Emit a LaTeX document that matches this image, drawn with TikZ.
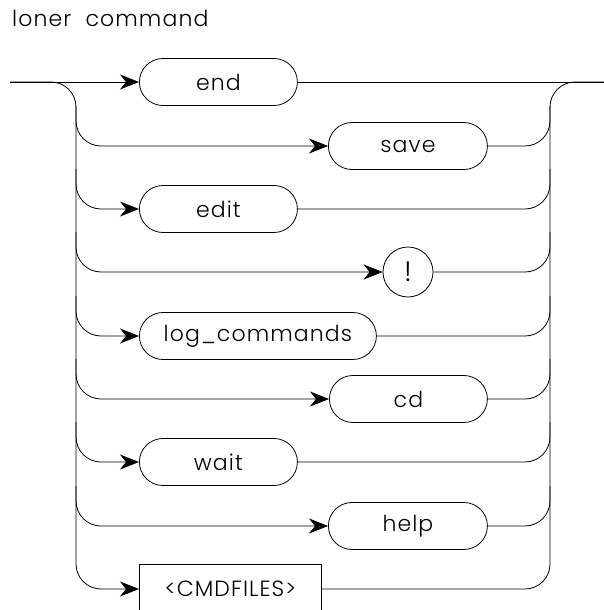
\documentclass[tikz,border=0pt]{standalone}
\usepackage{fontspec}
\setmainfont{Poppins Light}[LetterSpace=5]
\usetikzlibrary{arrows.meta}
\begin{document}
\begin{tikzpicture}[x=1pt,y=-1pt,
  every node/.style={font=\fontsize{22}{26}\selectfont},
  line/.style={line width=0.8pt, draw=black},
  tip/.tip={Stealth[length=19pt,width=15pt,inset=6pt]},
  arr/.style={line, -tip},
  pill/.style={line, rounded corners=23.5pt, minimum height=47pt, inner sep=0pt, anchor=west},
  bus/.style={line, rounded corners=25pt}]
\useasboundingbox (0,0) rectangle (604,610);
\clip (0,0) rectangle (604,610);
\node[anchor=base west, inner sep=0pt] (title) at (12,27) {loner\ \ command};
\coordinate (start) at (10,82);
\coordinate (finish) at (604,82);
\coordinate (L) at (76,0);
\coordinate (R) at (550,0);
\node[pill, minimum width=158pt] (end) at (139,82) {end};
\node[pill, minimum width=159pt] (save) at (328,146) {save};
\node[pill, minimum width=158pt] (edit) at (139,209) {edit};
\node[line, circle, minimum size=50pt, inner sep=0pt, font=\fontsize{28}{30}\selectfont] (bang) at (408,272) {!};
\node[pill, minimum width=237pt] (log) at (139,336) {log\_commands};
\node[pill, minimum width=158pt] (cd) at (329,399) {cd};
\node[pill, minimum width=158pt] (wait) at (139,462) {wait};
\node[pill, minimum width=159pt] (help) at (328,526) {help};
\node[line, rectangle, minimum width=182pt, minimum height=50pt, inner sep=0pt, anchor=west] (cmd) at (139,589) {<CMDFILES>};
% main line
\draw[arr] (start) -- (end.west);
\draw[line] (end.east) -- (finish);
% left bus
\draw[bus, -tip] (start) -| (L |- cmd.west) -- (cmd.west);
% right bus
\draw[bus] (cmd.east) -| (R |- finish) -- (finish);
% branches
\foreach \n in {save,edit,bang,log,cd,wait,help}{
  \draw[arr, rounded corners=25pt] ([yshift=40pt]L |- \n.west) |- (\n.west);
  \draw[line, rounded corners=25pt] (\n.east) -| ([yshift=40pt]R |- \n.east);
}
\end{tikzpicture}
\end{document}
